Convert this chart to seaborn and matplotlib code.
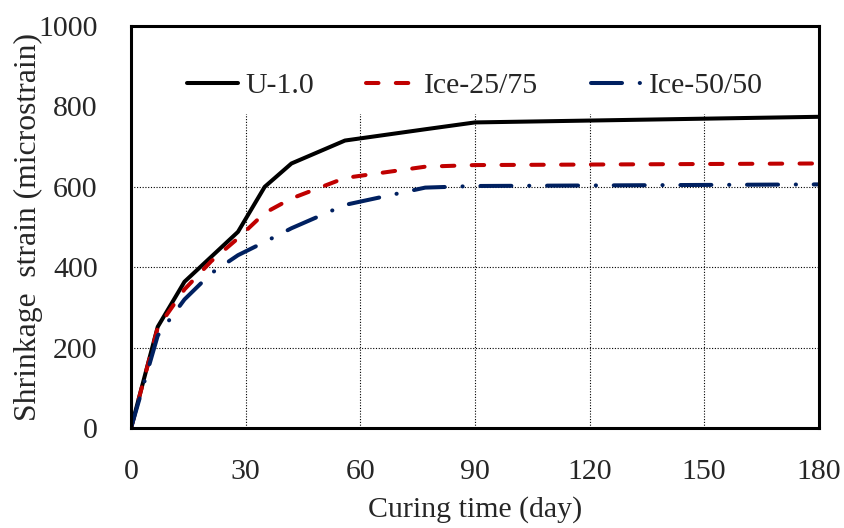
import numpy as np
import pandas as pd
import matplotlib
matplotlib.use("Agg")
import matplotlib.pyplot as plt
import seaborn as sns

# curing days and shrinkage strain (microstrain)
days = [0, 7, 14, 21, 28, 35, 42, 56, 77, 90, 180]
u_10 = [0, 252, 364, 426, 488, 600, 658, 715, 743, 760, 774]
ice_25_75 = [0, 250, 345, 415, 472, 535, 571, 622, 650, 654, 658]
ice_50_50 = [0, 230, 320, 385, 430, 463, 497, 555, 598, 602, 606]

series_names = ["U-1.0", "Ice-25/75", "Ice-50/50"]
x_ticks = [0, 30, 60, 90, 120, 150, 180]
y_ticks = [0, 200, 400, 600, 800, 1000]

df = pd.DataFrame({
    "day": days * 3,
    "strain": u_10 + ice_25_75 + ice_50_50,
    "mix": [n for n in series_names for _ in days],
})

sns.set_style("white")
plt.rcParams["font.family"] = ["Liberation Serif", "DejaVu Serif"]

fig = plt.figure(figsize=(8.45, 5.28), dpi=100)
ax = fig.add_axes([0.155, 0.189, 0.814, 0.762])

palette = {"U-1.0": "black", "Ice-25/75": "#C00000", "Ice-50/50": "#002060"}
sns.lineplot(data=df, x="day", y="strain", hue="mix", palette=palette,
             linewidth=2.9, ax=ax, legend=False, sort=False)

styles = [(0, ()), (0, (3.1, 4.3)), (0, (7.7, 4.4, 0.05, 4.4))]
for line, ls in zip(ax.get_lines(), styles):
    line.set_linestyle(ls)
    line.set_dash_capstyle("round")
    line.set_solid_capstyle("round")

ax.set_xlim(0, 180)
ax.set_ylim(0, 1000)
ax.set_xticks(x_ticks)
ax.set_yticks(y_ticks)

ax.set_axisbelow(True)
ax.grid(True, color="black", linestyle=(0, (1, 1.5)), linewidth=0.8)
# white area behind the legend hides the top grid
ax.axhspan(783, 1000, color="white", zorder=1)

for sp in ax.spines.values():
    sp.set_color("black")
    sp.set_linewidth(2.2)

ax.tick_params(axis="x", length=0, pad=22, labelsize=21.5)
ax.tick_params(axis="y", length=3, direction="in", pad=24, labelsize=21.5)

ax.set_xlabel("Curing time (day)", fontsize=21.5, labelpad=8)
ax.set_ylabel("Shrinkage  strain (microstrain)", fontsize=22.8, labelpad=-3.5)

ax.legend(ax.get_lines(), series_names, loc="center",
          bbox_to_anchor=(0.500, 0.851), ncol=3, frameon=False,
          fontsize=21.5, handlelength=1.7, handletextpad=0.25,
          columnspacing=1.75)

fig.savefig("out.png", dpi=100)
